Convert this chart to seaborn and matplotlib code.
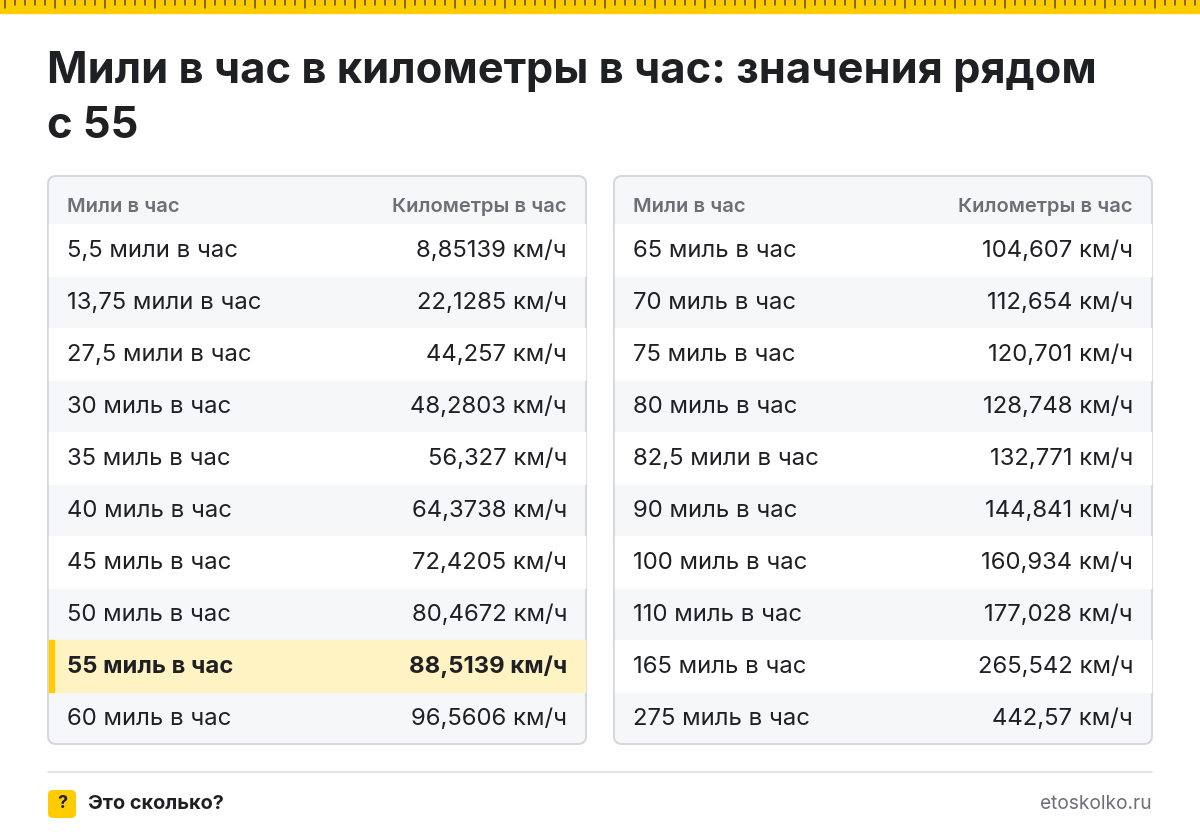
import matplotlib
matplotlib.use("Agg")
import matplotlib.pyplot as plt
import seaborn as sns
from matplotlib.patches import FancyBboxPatch, Rectangle

sns.set_theme(style="white")
plt.rcParams['font.family'] = ['Inter', 'DejaVu Sans']

title_lines = ["Мили в час в километры в час: значения рядом", "с 55"]
col_headers = ["Мили в час", "Километры в час"]
left_mph = ["5,5 мили в час", "13,75 мили в час", "27,5 мили в час", "30 миль в час", "35 миль в час",
            "40 миль в час", "45 миль в час", "50 миль в час", "55 миль в час", "60 миль в час"]
left_kmh = ["8,85139 км/ч", "22,1285 км/ч", "44,257 км/ч", "48,2803 км/ч", "56,327 км/ч",
            "64,3738 км/ч", "72,4205 км/ч", "80,4672 км/ч", "88,5139 км/ч", "96,5606 км/ч"]
right_mph = ["65 миль в час", "70 миль в час", "75 миль в час", "80 миль в час", "82,5 мили в час",
             "90 миль в час", "100 миль в час", "110 миль в час", "165 миль в час", "275 миль в час"]
right_kmh = ["104,607 км/ч", "112,654 км/ч", "120,701 км/ч", "128,748 км/ч", "132,771 км/ч",
             "144,841 км/ч", "160,934 км/ч", "177,028 км/ч", "265,542 км/ч", "442,57 км/ч"]
highlight = "55 миль в час"
brand = "Это сколько?"
site = "etoskolko.ru"

W, H = 1200, 836
fig = plt.figure(figsize=(12, 8.36), dpi=100)
ax = fig.add_axes([0, 0, 1, 1])
ax.set_xlim(0, W); ax.set_ylim(H, 0); ax.axis("off")

YEL = "#FFCC00"; DARK = "#1F2024"; GRAY = "#F6F7F9"; BORDER = "#D5D8DD"
ax.add_patch(Rectangle((0, 0), W, 13, color=YEL, zorder=1))
for x in range(5, W, 10):
    L = 8 if (x - 55) % 50 == 0 else 5
    ax.plot([x, x], [0, L], color="#5A4A10", lw=1.1, zorder=2)

for k, line in enumerate(title_lines):
    ax.text(47, 71 + 55 * k, line, fontsize=31.3, fontweight="bold", color=DARK, va="center", ha="left")

def panel(x0, x1, mph, kmh):
    y0, y1 = 176, 744
    ax.add_patch(FancyBboxPatch((x0, y0), x1 - x0, y1 - y0, boxstyle="round,pad=0,rounding_size=8",
                                fc=GRAY, ec=BORDER, lw=1.5, zorder=1))
    ax.text(x0 + 19, 207, col_headers[0], fontsize=14.5, fontweight="semibold", color="#6B6F76", va="center")
    ax.text(x1 - 19, 207, col_headers[1], fontsize=14.5, fontweight="semibold", color="#6B6F76", va="center", ha="right")
    for i, (a, b) in enumerate(zip(mph, kmh)):
        yc = 250 + 52 * i
        hl = a == highlight
        if hl:
            ax.add_patch(Rectangle((x0 + 1, yc - 26), x1 - x0 - 2, 52, color="#FFF3C4", zorder=2))
            ax.add_patch(Rectangle((x0 + 1, yc - 26), 5, 52, color=YEL, zorder=3))
        elif i % 2 == 0:
            ax.add_patch(Rectangle((x0 + 1, yc - 26), x1 - x0 - 2, 52, color="white", zorder=2))
        fw = "bold" if hl else "normal"
        ax.text(x0 + 19, yc + 1, a, fontsize=17.2, fontweight=fw, color=DARK, va="center", zorder=4)
        ax.text(x1 - 19, yc + 1, b, fontsize=17.2, fontweight=fw, color=DARK, va="center", ha="right", zorder=4)

panel(48, 586, left_mph, left_kmh)
panel(614, 1152, right_mph, right_kmh)

ax.plot([48, 1152], [772, 772], color="#E3E6EA", lw=1.5)
ax.add_patch(FancyBboxPatch((48, 790), 28, 28, boxstyle="round,pad=0,rounding_size=5", fc=YEL, ec="none"))
ax.text(62, 804, "?", fontsize=13, fontweight="bold", color=DARK, ha="center", va="center")
ax.text(88, 804, brand, fontsize=14.3, fontweight="bold", color=DARK, va="center")
ax.text(1152, 804, site, fontsize=13.8, color="#6B6F76", va="center", ha="right")

fig.savefig("out.png", dpi=100, facecolor="white")
